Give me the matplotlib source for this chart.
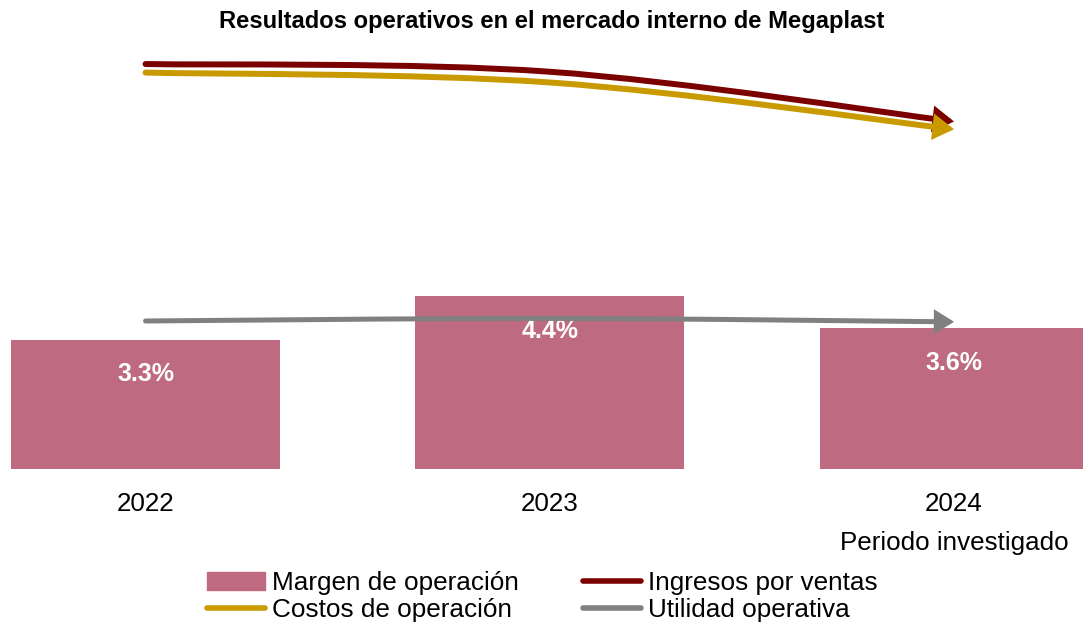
import matplotlib
matplotlib.use('Agg')
import matplotlib.pyplot as plt
import numpy as np
from matplotlib.path import Path
from matplotlib.patches import FancyArrowPatch, Patch
from matplotlib.lines import Line2D

plt.rcParams['font.family'] = ['Liberation Sans', 'DejaVu Sans']

years = ['2022', '2023', '2024\nPeriodo investigado']
margen = [3.3, 4.4, 3.6]  # margen de operacion, %
# tendencias (escala relativa, eje secundario oculto)
ingresos = [94.4, 92.6, 81.0]
costos = [92.4, 90.1, 79.2]
utilidad = [34.5, 35.1, 34.3]

c_bar = '#BE6A81'
c_ing = '#7B0000'
c_cos = '#C99A00'
c_uti = '#808080'


def curva(xs, ys):
    # linea suavizada tipo Excel: Catmull-Rom como bezier cubica
    p = np.column_stack([xs, ys]).astype(float)
    n = len(p)
    verts = [p[0]]
    codes = [Path.MOVETO]
    for i in range(n - 1):
        a = p[max(i - 1, 0)]
        b = p[i]
        c = p[i + 1]
        d = p[min(i + 2, n - 1)]
        verts += [b + (c - a) / 6, c - (d - b) / 6, c]
        codes += [Path.CURVE4] * 3
    return Path(verts, codes)


fig = plt.figure(figsize=(10.83, 6.24), dpi=100)
ax = fig.add_axes([0, 0.2484, 1, 0.6875])
x = np.arange(len(years))
ax.bar(x, margen, width=0.665, color=c_bar, zorder=1)
for xi, v in zip(x, margen):
    ax.annotate(f'{v}%', (xi, v), xytext=(0, -25), textcoords='offset points',
                ha='center', va='center', color='white', fontsize=18, fontweight='bold')
ax.set_xlim(-0.36, 2.319)
ax.set_ylim(0, 10.94)
ax.set_xticks(x, years)
ax.tick_params(axis='x', length=0, pad=16.5, labelsize=18.7)
for lbl in ax.get_xticklabels():
    lbl.set_linespacing(1.8)
ax.set_yticks([])
for s in ax.spines.values():
    s.set_visible(False)

ax2 = ax.twinx()
for ys, col, lw in [(ingresos, c_ing, 4.3), (costos, c_cos, 4.3), (utilidad, c_uti, 3.6)]:
    arr = FancyArrowPatch(path=curva(x, ys), arrowstyle='-|>,head_length=0.55,head_width=0.34',
                          mutation_scale=17, color=col, lw=lw, joinstyle='miter',
                          capstyle='round', transform=ax2.transData)
    ax2.add_patch(arr)
ax2.set_xlim(-0.36, 2.319)
ax2.set_ylim(0, 100)
ax2.set_yticks([])
for s in ax2.spines.values():
    s.set_visible(False)

fig.text(0.509, 0.965, 'Resultados operativos en el mercado interno de Megaplast',
         ha='center', va='center', fontsize=17.1, fontweight='bold')

handles = [Patch(color=c_bar),
           Line2D([], [], color=c_cos, lw=4, solid_capstyle='round'),
           Line2D([], [], color=c_ing, lw=4, solid_capstyle='round'),
           Line2D([], [], color=c_uti, lw=4, solid_capstyle='round')]
labels = ['Margen de operación', 'Costos de operación', 'Ingresos por ventas', 'Utilidad operativa']
fig.legend(handles, labels, ncol=2, loc='upper left', bbox_to_anchor=(0.191, 0.085),
           frameon=False, fontsize=18.8, handlelength=2.22, handleheight=0.65,
           handletextpad=0.27, columnspacing=2.45, labelspacing=0.13,
           borderpad=0, borderaxespad=0)

fig.savefig('out.png', dpi=100)
